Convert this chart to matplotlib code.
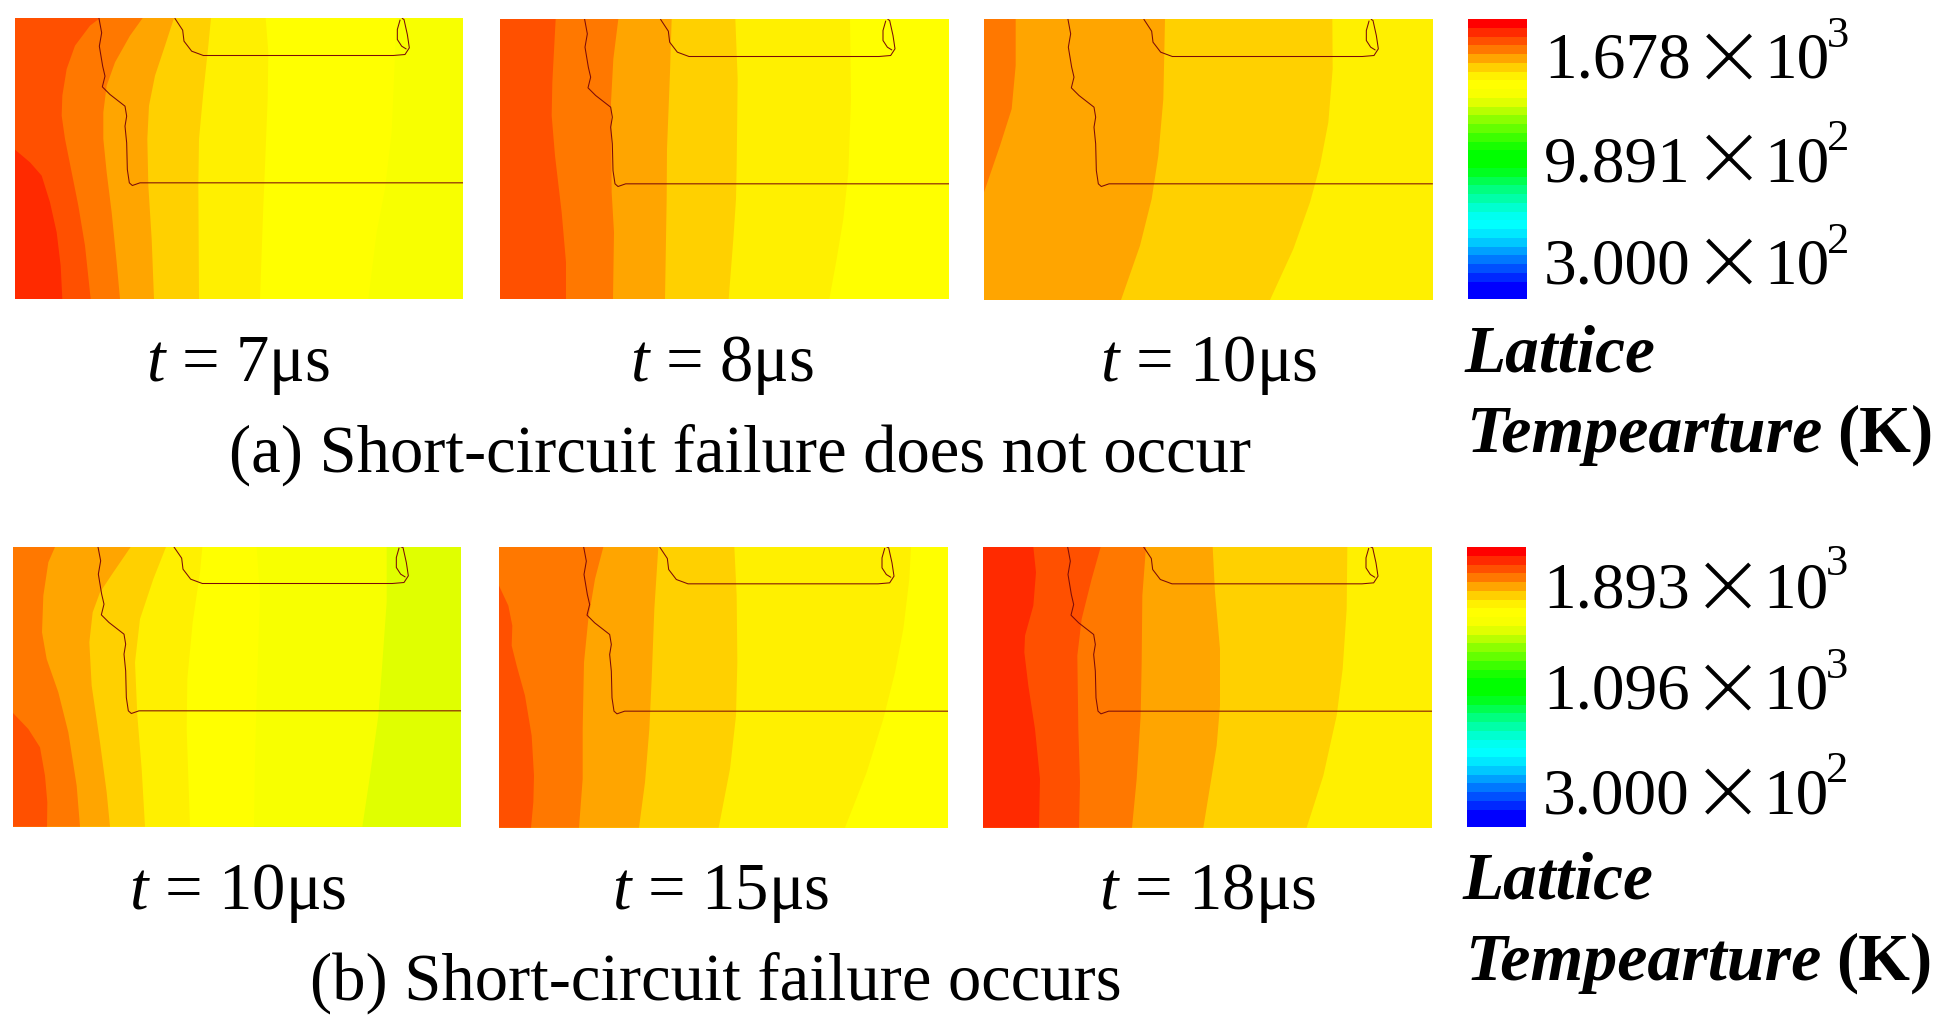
import matplotlib
matplotlib.use("Agg")
import matplotlib.pyplot as plt
import matplotlib.patheffects as pe
from matplotlib.colors import ListedColormap
import numpy as np

W, H = 1948, 1020
plt.rcParams['font.family'] = ['Liberation Serif', 'DejaVu Serif']
plt.rcParams['mathtext.fontset'] = 'custom'
plt.rcParams['mathtext.rm'] = 'Liberation Serif'
plt.rcParams['mathtext.it'] = 'Liberation Serif:italic'

# Colour bands of the scale, hottest first
band_colors = ['#FF0000', '#FF2A00', '#FF5000', '#FF7800', '#FFA500', '#FFD000', '#FFF000', '#FFFF00',
               '#F8FF00', '#E0FF00', '#B8FF00', '#8CFF00', '#64FF00', '#3CFF00', '#18FF00', '#00FF00',
               '#00FF00', '#00FF20', '#00FF50', '#00FF80', '#00FFA8', '#00FFD0', '#00FFF0', '#00FFFF',
               '#00E8FF', '#00C8FF', '#00A0FF', '#0078FF', '#0050FF', '#0028FF', '#0000FF', '#0000FF']

# Isotherm traces, read in crop coordinates (x, y), one list per band edge, left band first
p1_edges = [
    [(45,452),(90,490),(125,530),(150,610),(170,700),(182,800),(187,900)],
    [(300,57),(270,80),(225,140),(200,210),(187,290),(185,350),(195,420),(215,520),(235,620),(255,740),(272,900)],
    [(428,57),(390,110),(345,190),(320,260),(310,340),(310,420),(320,520),(335,640),(350,790),(360,900)],
    [(522,57),(495,140),(465,230),(447,320),(442,420),(445,560),(455,720),(462,900)],
    [(633,57),(625,140),(610,280),(597,420),(595,560),(597,900)],
    [(797,57),(805,160),(803,300),(795,500),(790,620),(780,900)],
    [(1190,57),(1185,170),(1175,400),(1155,570),(1130,700),(1105,900)],
]
p2_edges = [
    [(197,60),(187,250),(185,350),(195,470),(215,640),(228,790),(228,900)],
    [(385,60),(370,180),(363,310),(365,580),(372,700),(369,900)],
    [(545,60),(540,220),(531,450),(530,600),(525,900)],
    [(736,60),(743,240),(740,500),(738,600),(730,720),(716,900)],
    [(1080,60),(1083,300),(1075,520),(1060,660),(1040,780),(1018,900)],
]
p3_edges = [
    [(137,60),(137,200),(125,330),(90,440),(42,580)],
    [(585,60),(580,300),(565,470),(545,600),(510,740),(453,903)],
    [(1087,60),(1088,210),(1075,370),(1050,500),(1020,610),(970,750),(900,903)],
]
p4_edges = [
    [(39,552),(85,600),(120,655),(135,740),(142,820),(141,893)],
    [(165,54),(145,100),(130,200),(126,310),(140,390),(175,490),(205,610),(230,770),(240,893)],
    [(392,54),(340,130),(300,190),(278,250),(268,340),(275,470),(300,640),(320,790),(330,893)],
    [(498,54),(460,150),(420,270),(405,400),(412,560),(425,720),(435,893)],
    [(607,54),(600,130),(578,280),(562,450),(560,600),(570,893)],
    [(770,54),(780,200),(770,500),(765,700),(762,893)],
    [(1160,54),(1160,220),(1145,430),(1135,560),(1110,740),(1087,893)],
]
p5_edges = [
    [(27,170),(55,230),(67,290),(65,350),(80,410),(105,500),(125,620),(132,740),(130,820),(123,896)],
    [(340,54),(315,150),(295,270),(282,400),(278,600),(278,750),(267,896)],
    [(505,54),(493,240),(485,450),(478,600),(465,760),(447,896)],
    [(733,54),(740,200),(742,400),(738,560),(720,720),(686,896)],
    [(1263,54),(1258,150),(1240,300),(1215,430),(1180,570),(1130,730),(1065,896)],
]
p6_edges = [
    [(190,54),(198,130),(190,230),(165,320),(163,370),(175,470),(195,600),(210,750),(207,896)],
    [(392,54),(365,150),(335,270),(322,380),(325,600),(330,760),(327,896)],
    [(528,54),(517,200),(515,400),(512,560),(500,750),(486,896)],
    [(728,54),(735,190),(750,360),(750,530),(740,650),(700,896)],
    [(1132,54),(1130,240),(1118,420),(1100,560),(1060,740),(1010,896)],
]
all_edges = [p1_edges, p2_edges, p3_edges, p4_edges, p5_edges, p6_edges]
first_band = [1, 2, 3, 2, 2, 1]

# crop origin, then panel limits in that crop
crop_origin = [(0, 0), (490, 0), (970, 0), (0, 530), (490, 530), (970, 530)]
panel_xlim = [(45, 1390), (30, 1377), (42, 1389), (39, 1383), (27, 1374), (39, 1386)]
panel_ylim = [(57, 900), (60, 900), (60, 903), (54, 893), (54, 896), (54, 896)]
outline_dx = [0, 2, 0, 3, 2, 2]
outline_dy = [1.5, 1.5, 1.5, -1.5, -0.5, -0.5]

# Device outline, as traced in panel 1
junction_trace = [(297,57),(305,100),(298,140),(308,200),(315,230),(307,262),(330,285),(375,320),(380,350),
                  (375,380),(380,430),(382,510),(388,550),(397,558),(420,550),(1390,550)]
gate_trace = [(525,57),(548,92),(552,125),(575,155),(610,168),(1000,168),(1180,168),(1215,165),(1228,145),
              (1222,105),(1212,60),(1207,57)]
contact_trace = [(1200,62),(1192,90),(1192,120),(1205,140),(1218,148)]

time_labels = ['7μs', '8μs', '10μs', '10μs', '15μs', '18μs']
time_label_x = [238, 722, 1209, 238, 721, 1208]
time_label_y = [381, 381, 381, 909, 909, 909]
row_captions = ['(a) Short-circuit failure does not occur', '(b) Short-circuit failure occurs']
caption_x = [740, 716]
caption_y = [472, 1000]
scale_mant = [['1.678', '9.891', '3.000'], ['1.893', '1.096', '3.000']]
scale_exp = [['3', '2', '2'], ['3', '3', '2']]

fig = plt.figure(figsize=(W / 100, H / 100), dpi=100, facecolor='white')


def px_axes(x0, y0, x1, y1):
    return fig.add_axes([x0 / W, 1 - y1 / H, (x1 - x0) / W, (y1 - y0) / H])


def px_text(x, y, s, **kw):
    kw.setdefault('color', 'black')
    return fig.text(x / W, 1 - y / H, s, **kw)


for i, edges in enumerate(all_edges):
    ox, oy = crop_origin[i]
    xl, yl = panel_xlim[i], panel_ylim[i]
    ax = px_axes(ox + xl[0] / 3, oy + yl[0] / 3, ox + xl[1] / 3, oy + yl[1] / 3)
    ax.set_xlim(*xl)
    ax.set_ylim(yl[1], yl[0])
    ax.axis('off')
    n = len(edges)
    ax.fill([xl[0], xl[1], xl[1], xl[0]], [yl[0], yl[0], yl[1], yl[1]],
            color=band_colors[first_band[i] + n], lw=0)
    for k in range(n - 1, -1, -1):
        xs = [p[0] for p in edges[k]] + [xl[0]]
        ys = [p[1] for p in edges[k]] + [yl[1]]
        if edges[k][0][1] == yl[0]:
            xs.append(xl[0])
            ys.append(yl[0])
        ax.fill(xs, ys, color=band_colors[first_band[i] + k], lw=0)
    dx = xl[0] - 45 + outline_dx[i]
    dy = yl[0] - 57 + outline_dy[i]
    for tr in (junction_trace, gate_trace, contact_trace):
        tx = [min(p[0] + dx, xl[1]) if p[0] == 1390 else p[0] + dx for p in tr]
        ty = [max(p[1] + dy, yl[0]) for p in tr]
        ax.plot(tx, ty, color='#7a0a0a', lw=0.75, solid_joinstyle='round')
    px_text(time_label_x[i], time_label_y[i], r'$\mathit{t}$ = ' + time_labels[i], fontsize=48, ha='center', va='baseline')

for j in range(2):
    px_text(caption_x[j], caption_y[j], row_captions[j], fontsize=48, ha='center', va='baseline')

cb_boxes = [(1468, 20, 1527, 300), (1467, 548, 1526, 828)]
cb_cmap = ListedColormap(band_colors[::-1])
baselines = [[78, 182, 284], [607, 709, 813]]
sup_baselines = [[47, 150, 253], [575, 678, 782]]
x_centers = [[56, 157, 261], [585, 687, 791]]
title_y = [(372, 452), (899, 980)]
for j in range(2):
    x0, y0, x1, y1 = cb_boxes[j]
    ax = px_axes(x0, y0, x1, y1)
    ax.pcolormesh(np.arange(2), np.arange(len(band_colors) + 1),
                  np.arange(len(band_colors)).reshape(-1, 1), cmap=cb_cmap, shading='flat')
    ax.axis('off')
    off = -1 if j else 0
    for r in range(3):
        mant = scale_mant[j][r]
        px_text(1544 + off, baselines[j][r], mant, fontsize=47, ha='left', va='baseline')
        px_text(1729 + off, x_centers[j][r], '×', fontsize=86, ha='center', va='center_baseline',
                path_effects=[pe.Stroke(linewidth=1.4, foreground='white')])
        px_text(1764 + off, baselines[j][r], '10', fontsize=47, ha='left', va='baseline')
        px_text(1827 + off, sup_baselines[j][r], scale_exp[j][r], fontsize=32, ha='left', va='baseline')
    px_text(1464 + off, title_y[j][0], 'Lattice', fontsize=48.5, fontweight='bold', fontstyle='italic', ha='left', va='baseline')
    px_text(1466 + off, title_y[j][1], 'Tempearture', fontsize=49, fontweight='bold', fontstyle='italic', ha='left', va='baseline')
    px_text(1837 + off, title_y[j][1], '(K)', fontsize=48, fontweight='bold', ha='left', va='baseline')

fig.savefig('out.png', dpi=100, facecolor='white')
